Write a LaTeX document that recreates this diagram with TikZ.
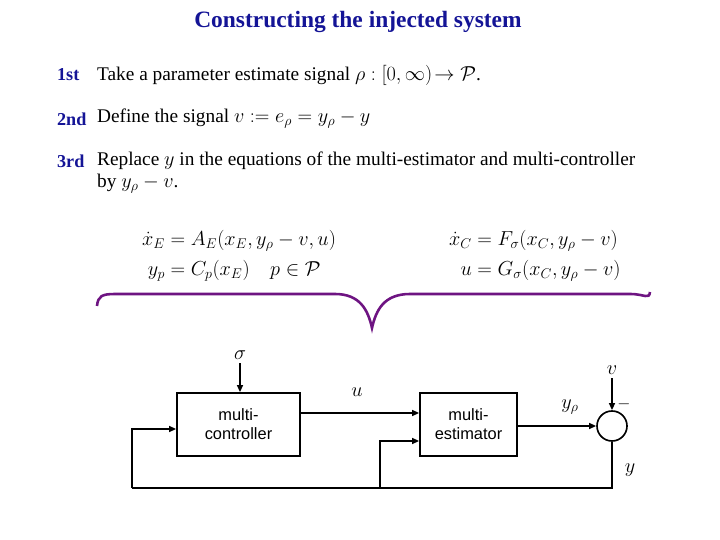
\documentclass[tikz,border=0pt]{standalone}
\usepackage{amsmath,amssymb}
\usepackage{fontspec}
\setmainfont{Liberation Serif}
\setsansfont{Liberation Sans}
\usetikzlibrary{arrows.meta, positioning}
\definecolor{titleblue}{RGB}{20,20,150}
\definecolor{bracepurple}{RGB}{110,20,130}
\begin{document}
\begin{tikzpicture}[x=0.03cm, y=-0.03cm,
    block_style/.style={draw, line width=1.4pt, minimum width=3.69cm, minimum height=1.89cm, align=center, font=\sffamily\fontsize{14}{16}\selectfont},
    sum_style/.style={circle, draw, line width=1.4pt, minimum size=0.9cm, inner sep=0pt},
    sig_style/.style={font=\fontsize{18}{20}\selectfont},
    line_style/.style={line width=1.4pt},
    arrow_style/.style={line width=1.4pt, -{Triangle[length=6pt, width=5pt]}},
    step_label/.style={anchor=west, font=\bfseries\fontsize{15.5}{18}\selectfont, text=titleblue},
    step_text/.style={anchor=west, align=left, font=\fontsize{16.5}{19}\selectfont}
]
\useasboundingbox (0,0) rectangle (720,540);

% Title and steps
\node[font=\bfseries\fontsize{20}{24}\selectfont, text=titleblue] (title) at (358,22) {Constructing the injected system};
\node[step_label] (s1) at (53,75) {1st};
\node[step_text] (t1) at (93,75) {Take a parameter estimate signal $\rho : [0,\infty)\!\to \mathcal{P}$.};
\node[step_label] (s2) at (53,119) {2nd};
\node[step_text] (t2) at (93,119) {Define the signal $v := e_\rho = y_\rho - y$};
\node[step_label] (s3) at (53,161) {3rd};
\node[step_text] (t3) at (93,161) {Replace $y$ in the equations of the multi-estimator and multi-controller};
\node[step_text] (t3b) at (93,184) {by $y_\rho - v$.};

% Equations
\node[anchor=west, font=\fontsize{17.5}{23}\selectfont] (eqE) at (138,255) {$\begin{aligned}
  \dot x_E &= A_E(x_E, y_\rho - v, u)\\
  y_p &= C_p(x_E) \quad p \in \mathcal{P}
\end{aligned}$};
\node[anchor=west, font=\fontsize{17.5}{23}\selectfont] (eqC) at (445,255) {$\begin{aligned}
  \dot x_C &= F_\sigma(x_C, y_\rho - v)\\
  u &= G_\sigma(x_C, y_\rho - v)
\end{aligned}$};

% Brace
\draw[bracepurple, line width=2.2pt] (97,306) .. controls (98,296) and (102,294) .. (115,294)
  -- (335,294) .. controls (360,294) and (368,310) .. (372,328)
  .. controls (376,310) and (384,294) .. (410,294)
  -- (630,294) .. controls (645,294) and (649,300) .. (650,292);

% Block diagram
\node[block_style] (ctrl) at (238.5,424.5) {multi-\\controller};
\node[block_style, minimum width=2.91cm] (est) at (468.5,424.5) {multi-\\estimator};
\node[sum_style] (sum) at (612,426) {};
\node[sig_style] (sigma) at (240,355) {$\sigma$};
\node[sig_style] (v) at (612,370) {$v$};
\node[sig_style] (ulab) at (357,392) {$u$};
\node[sig_style] (yrho) at (570,407) {$y_\rho$};
\node[font=\fontsize{15}{16}\selectfont] (minus) at (624,404) {$-$};
\node[sig_style] (ylab) at (630,470) {$y$};
\coordinate (bl) at (132,488);
\coordinate (bm) at (380,488);
\coordinate (br) at (612,488);

\draw[arrow_style] (sigma) -- (ctrl.north -| sigma);
\draw[arrow_style] (v) -- (sum.north);
\draw[arrow_style] (ctrl.east |- 0,413) -- (est.west |- 0,413);
\draw[arrow_style] (est.east |- sum) -- (sum.west);
\draw[line_style] (sum.south) -- (br) -- (bl);
\draw[arrow_style] (bl) -- (132,429) -- (ctrl.west |- 0,429);
\draw[arrow_style] (bm) -- (380,441) -- (est.west |- 0,441);
\end{tikzpicture}
\end{document}
